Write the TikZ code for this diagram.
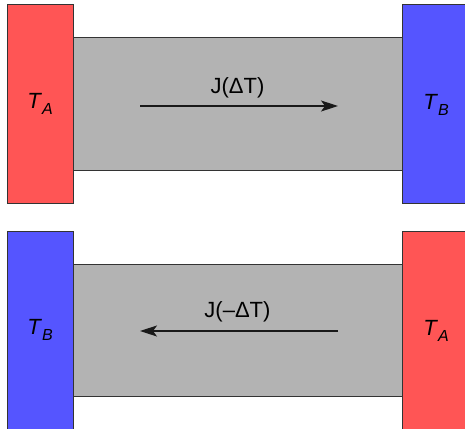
\documentclass[tikz,border=0pt]{standalone}
\usepackage{fontspec}
\setmainfont{Liberation Sans}
\usetikzlibrary{arrows.meta}
\definecolor{hotred}{HTML}{FF5555}
\definecolor{coldblue}{HTML}{5555FF}
\definecolor{bargray}{HTML}{B3B3B3}
\newcommand{\tsym}[1]{\textit{T}\raisebox{-0.25em}{\fontsize{16}{18}\selectfont\textit{#1}}}
\begin{document}
\begin{tikzpicture}[x=1pt,y=-1pt,
  reservoir/.style={draw=black!80,line width=1pt,inner sep=0pt,
    minimum width=66pt,minimum height=198pt,font=\fontsize{22}{26}\selectfont},
  bar/.style={draw=black!80,line width=1pt,fill=bargray,inner sep=0pt,
    minimum width=329pt,minimum height=132pt},
  flux/.style={line width=1.2pt,draw=black!90,-{Stealth[length=17pt,width=11pt,inset=4pt]}},
  fluxlabel/.style={font=\fontsize{22}{26}\selectfont,inner sep=0pt}]
\useasboundingbox (0,0) rectangle (465,428);
% upper rod: hot on the left, cold on the right
\node[bar] (rod1) at (237.5,104) {};
\node[reservoir,fill=hotred] (ta1) at (40,104) {\tsym{A}};
\node[reservoir,fill=coldblue] (tb1) at (435,104) {};
\node at (436,105) {\fontsize{22}{26}\selectfont\tsym{B}};
\coordinate (f1s) at (140,106);
\coordinate (f1e) at (338,106);
\draw[flux] (f1s) -- (f1e);
\node[fluxlabel] (j1) at (237.5,88) {J(ΔT)};
% lower rod: reservoirs swapped
\node[bar] (rod2) at (237.5,330) {};
\node[reservoir,fill=coldblue] (tb2) at (40,330) {\tsym{B}};
\node[reservoir,fill=hotred] (ta2) at (435,330) {};
\node at (436,331) {\fontsize{22}{26}\selectfont\tsym{A}};
\coordinate (f2s) at (338,331);
\coordinate (f2e) at (140,331);
\draw[flux] (f2s) -- (f2e);
\node[fluxlabel] (j2) at (237.5,312) {J(–ΔT)};
\end{tikzpicture}
\end{document}
